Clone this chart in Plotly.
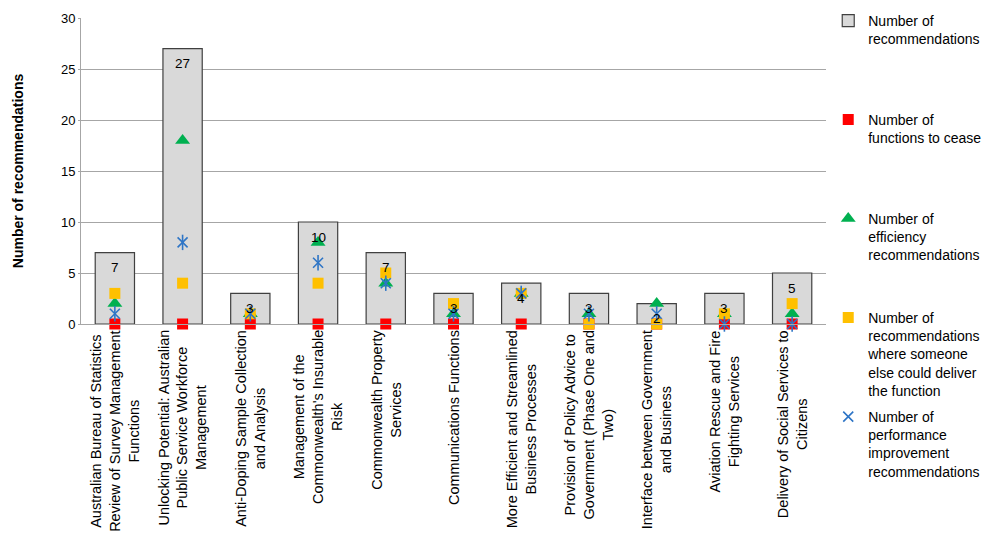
import plotly.graph_objects as go

categories = [
    "Australian Bureau of Statistics<br>Review of Survey Management<br>Functions",
    "Unlocking Potential: Australian<br>Public Service Workforce<br>Management",
    "Anti-Doping Sample Collection<br>and Analysis",
    "Management of the<br>Commonwealth's Insurable<br>Risk",
    "Commonwealth Property<br>Services",
    "Communications Functions",
    "More Efficient and Streamlined<br>Business Processes",
    "Provision of Policy Advice to<br>Government (Phase One and<br>Two)",
    "Interface between Government<br>and Business",
    "Aviation Rescue and Fire<br>Fighting Services",
    "Delivery of Social Services to<br>Citizens",
]
cat_ids = [f"c{i}" for i in range(len(categories))]

n_recommendations = [7, 27, 3, 10, 7, 3, 4, 3, 2, 3, 5]
n_cease = [0, 0, 0, 0, 0, 0, 0, 0, 0, 0, 0]
n_efficiency = [2, 18, 1, 8, 4, 1, 3, 1, 2, 1, 1]
n_someone_else = [3, 4, 1, 4, 5, 2, 3, 0, 0, 1, 2]
n_performance = [1, 8, 1, 6, 4, 1, 3, 1, 1, 0, 0]

legend_names = [
    "Number of<br>recommendations",
    "Number of<br>functions to cease",
    "Number of<br>efficiency<br>recommendations",
    "Number of<br>recommendations<br>where someone<br>else could deliver<br>the function",
    "Number of<br>performance<br>improvement<br>recommendations",
]

FONT = "Arial, Liberation Sans, sans-serif"
L, R, T, B = 81, 164, 18, 213
BLUE = "#2E75C6"


def pad(name, lines=5):
    n = name.count("<br>") + 1
    return name + "<br>\u00a0" * (lines - n)


fig = go.Figure()
fig.add_trace(go.Bar(
    x=cat_ids, y=n_recommendations, name=pad(legend_names[0]), legendgroup="g0",
    marker=dict(color="#D9D9D9", line=dict(color="#404040", width=1.2)),
    width=0.58,
))
fig.add_trace(go.Scatter(
    x=cat_ids, y=n_cease, mode="markers", name=pad(legend_names[1]), legendgroup="g1",
    marker=dict(symbol="square", color="#FF0000", size=11), cliponaxis=False,
))
fig.add_trace(go.Scatter(
    x=cat_ids, y=n_efficiency, mode="markers", name=pad(legend_names[2]), legendgroup="g2",
    marker=dict(symbol="triangle-up", color="#00B050", size=13), cliponaxis=False,
))
fig.add_trace(go.Scatter(
    x=cat_ids, y=n_someone_else, mode="markers", name=pad(legend_names[3]), legendgroup="g3",
    marker=dict(symbol="square", color="#FFC000", size=11), cliponaxis=False,
))
fig.add_trace(go.Scatter(
    x=cat_ids, y=n_performance, mode="markers", name=pad(legend_names[4]), legendgroup="g4",
    marker=dict(symbol="x-thin-open", color=BLUE, size=10,
                line=dict(color=BLUE, width=1.6)), cliponaxis=False,
))
fig.add_trace(go.Scatter(
    x=cat_ids, y=n_performance, mode="markers", legendgroup="g4", showlegend=False,
    marker=dict(symbol="line-ns-open", color=BLUE, size=11,
                line=dict(color=BLUE, width=1.6)), cliponaxis=False,
    hoverinfo="skip",
))

annotations = []
for cid, v in zip(cat_ids, n_recommendations):
    annotations.append(dict(x=cid, y=v, xref="x", yref="y", text=str(v), showarrow=False,
                            yanchor="middle", yshift=-15,
                            font=dict(family=FONT, size=13.5, color="#000000")))
for cid, lab in zip(cat_ids, categories):
    annotations.append(dict(x=cid, y=0, xref="x", yref="y", text=lab, showarrow=False,
                            textangle=-90, yanchor="top", yshift=-4, align="center",
                            font=dict(family=FONT, size=14.5, color="#000000")))

fig.update_layout(
    width=990, height=537,
    margin=dict(l=L, r=R, t=T, b=B, autoexpand=False),
    paper_bgcolor="white", plot_bgcolor="white",
    font=dict(family=FONT, size=13, color="#000000"),
    annotations=annotations,
    showlegend=True,
    legend=dict(x=1.003, xanchor="left", y=1.0425, yanchor="top",
                valign="top", maxheight=600,
                font=dict(family=FONT, size=14), tracegroupgap=5,
                bgcolor="rgba(0,0,0,0)"),
    xaxis=dict(showticklabels=False, ticks="", showline=True, linecolor="#A6A6A6",
               linewidth=1, showgrid=False, range=[-0.5, 10.5]),
    yaxis=dict(range=[0, 30], dtick=5, showgrid=True, gridcolor="#A6A6A6", gridwidth=1,
               showline=True, linecolor="#A6A6A6", linewidth=1, ticks="outside",
               ticklen=2, tickcolor="#A6A6A6", zeroline=False,
               tickfont=dict(family=FONT, size=13),
               title=dict(text="<b>Number of recommendations</b>", standoff=34,
                          font=dict(family=FONT, size=14))),
)

fig.write_html("out.html")
